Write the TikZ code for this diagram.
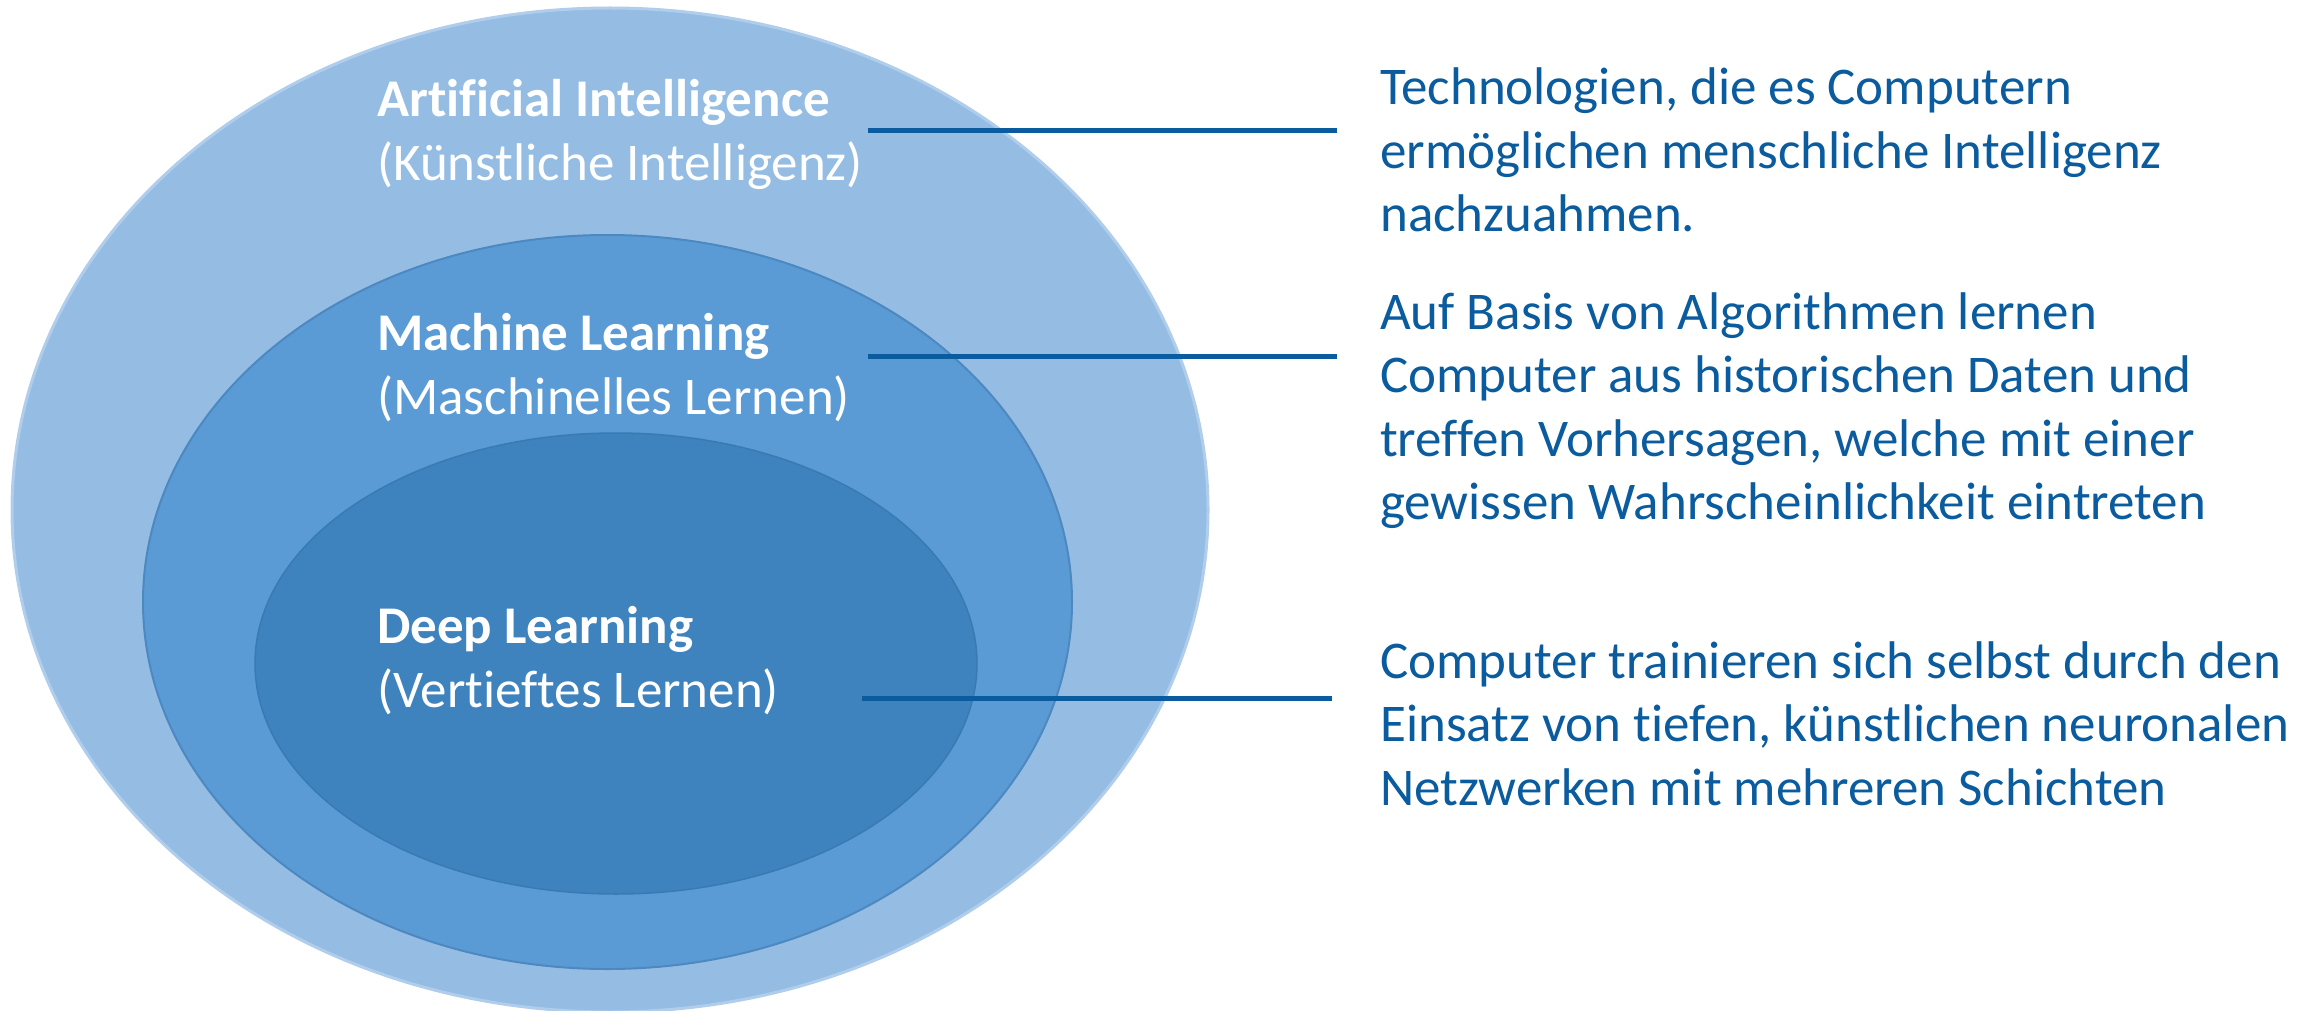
\documentclass[tikz,border=0pt]{standalone}
\usepackage{fontspec}
\setmainfont[Ligatures=NoCommon]{Carlito}
\definecolor{outerfill}{RGB}{149,189,227}
\definecolor{outerline}{RGB}{176,205,235}
\definecolor{midfill}{RGB}{91,155,213}
\definecolor{midline}{RGB}{77,136,192}
\definecolor{innerfill}{RGB}{62,131,190}
\definecolor{innerline}{RGB}{58,122,179}
\definecolor{txtblue}{RGB}{10,92,158}
\tikzset{
  label/.style={anchor=base west, inner sep=0pt, align=left, text=white,
    font=\fontsize{53}{63.5}\selectfont},
  desc/.style={anchor=base west, inner sep=0pt, align=left, text=txtblue,
    font=\fontsize{53}{63.5}\selectfont},
  leader/.style={draw=txtblue, line width=5pt},
}
\begin{document}
\begin{tikzpicture}[x=1pt,y=-1pt]
\useasboundingbox (0,0) rectangle (2321,1011);
\clip (0,0) rectangle (2321,1011);
\fill[white] (0,0) rectangle (2321,1011);
% ellipses
\path[fill=outerfill, draw=outerline, line width=3pt] (610,510) ellipse [x radius=598, y radius=502];
\path[fill=midfill, draw=midline, line width=2pt] (607.5,602) ellipse [x radius=464.5, y radius=367];
\path[fill=innerfill, draw=innerline, line width=1.5pt] (616,663.5) ellipse [x radius=361, y radius=230.5];
% labels (anchor = baseline of the last line)
\node[label] (ai) at (377,180.5) {\textbf{Artificial Intelligence}\\(Künstliche Intelligenz)};
\node[label] (ml) at (377,414) {\textbf{Machine Learning}\\(Maschinelles Lernen)};
\node[label] (dl) at (377,707) {\textbf{Deep Learning}\\(Vertieftes Lernen)};
% descriptions
\node[desc] (aid) at (1380,232) {Technologien, die es Computern\\ermöglichen menschliche Intelligenz\\nachzuahmen.};
\node[desc] (mld) at (1380,519.5) {Auf Basis von Algorithmen lernen\\Computer aus historischen Daten und\\treffen Vorhersagen, welche mit einer\\gewissen Wahrscheinlichkeit eintreten};
\node[desc] (dld) at (1380,805) {Computer trainieren sich selbst durch den\\Einsatz von tiefen, künstlichen neuronalen\\Netzwerken mit mehreren Schichten};
% leader lines
\coordinate (aiL) at (868,131);
\coordinate (aiR) at (1337,131);
\coordinate (mlL) at (868,356);
\coordinate (mlR) at (1337,356);
\coordinate (dlL) at (862,698);
\coordinate (dlR) at (1332,698);
\draw[leader] (aiL) -- (aiR);
\draw[leader] (mlL) -- (mlR);
\draw[leader] (dlL) -- (dlR);
\end{tikzpicture}
\end{document}
